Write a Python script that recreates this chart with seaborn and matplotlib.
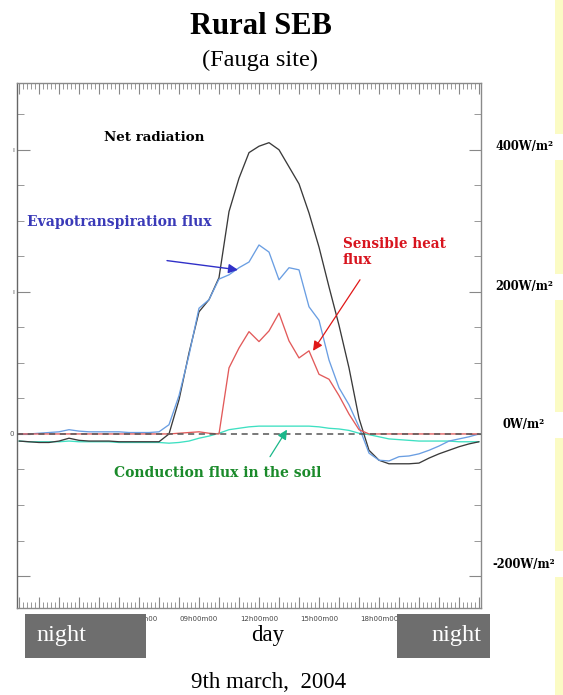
# Rural surface energy balance (Fauga site, 9 March 2004) - redrawn with seaborn
import numpy as np
import pandas as pd
import matplotlib
matplotlib.use("Agg")
import matplotlib.pyplot as plt
import seaborn as sns
from matplotlib.patches import Rectangle
from matplotlib.ticker import MultipleLocator, FixedFormatter

# half-hourly time axis (hours of the day)
hours = np.arange(0, 23.5, 0.5)

# fluxes, W/m2
net_radiation = [-10, -11, -12, -12, -10, -6, -9, -10, -10, -10, -11, -11, -11, -11, -11,
                 0, 48, 114, 172, 189, 220, 313, 360, 396, 405, 410, 400, 376, 352, 311,
                 263, 207, 153, 93, 22, -23, -37, -42, -42, -42, -41, -34, -28, -23, -18,
                 -14, -11]
evapotranspiration = [0, 0, 1, 2, 3, 6, 4, 3, 3, 3, 3, 2, 2, 2, 3,
                      13, 54, 111, 177, 189, 218, 224, 234, 242, 266, 256, 217, 234, 231, 179,
                      160, 104, 65, 41, 10, -27, -37, -38, -32, -31, -28, -23, -17, -10, -7,
                      -4, 0]
sensible_heat = [0, 0, 0, 0, 0, 0, 0, 0, 0, 0, 0, 0, 0, 0, 0,
                 0, 1, 2, 3, 1, 0, 93, 121, 144, 130, 145, 170, 131, 107, 117,
                 84, 77, 54, 28, 6, 0, 0, 0, 0, 0, 0, 0, 0, 0, 0,
                 0, 0]
soil_conduction = [-10, -11, -11, -11, -11, -10, -11, -11, -11, -11, -12, -12, -12, -12, -12,
                   -13, -12, -10, -6, -3, 1, 6, 8, 10, 11, 11, 11, 11, 11, 11,
                   10, 8, 7, 5, 1, -1, -4, -7, -8, -9, -10, -10, -10, -10, -11,
                   -11, -11]

xtick_hours = [6, 9, 12, 15, 18]
xtick_labels = ["06h00m00", "09h00m00", "12h00m00", "15h00m00", "18h00m00"]
right_values = [400, 200, 0, -200]
right_labels = ["400W/m²", "200W/m²", "0W/m²", "-200W/m²"]
left_labels = ["ı", "ı", "0", ""]

df = pd.DataFrame({
    "hour": hours,
    "net": net_radiation,
    "evap": evapotranspiration,
    "sens": sensible_heat,
    "soil": soil_conduction,
})

sns.set_style("white")
plt.rcParams["font.family"] = ["DejaVu Sans"]
plt.rcParams["text.color"] = "black"

W, H = 563, 695
fig = plt.figure(figsize=(W / 100, H / 100), dpi=100)
ax = fig.add_axes([17 / W, 1 - 608 / H, 464 / W, 525 / H])


def fx(px):
    return px / W


def fy(py):
    return 1 - py / H


lw = 0.95
sns.lineplot(data=df, x="hour", y="soil", ax=ax, color="#3ee0c2", lw=lw, zorder=3)
sns.lineplot(data=df, x="hour", y="net", ax=ax, color="#3a3a3a", lw=lw, zorder=4)
sns.lineplot(data=df, x="hour", y="evap", ax=ax, color="#6a9ee2", lw=lw, zorder=5)
sns.lineplot(data=df, x="hour", y="sens", ax=ax, color="#e25a5a", lw=lw, zorder=6)
ax.axhline(0, color="#555555", lw=1.1, ls=(0, (4, 3)), zorder=7)

ax.set_xlim(-0.1, 23.1)
ax.set_ylim(-245, 494)
ax.set_xlabel("")
ax.set_ylabel("")

# axis ruler look: hourly major ticks, labels every 3 h, dense minor ticks
ax.set_xticks(list(range(0, 24)))
ax.xaxis.set_major_formatter(
    FixedFormatter([xtick_labels[xtick_hours.index(h)] if h in xtick_hours else ""
                    for h in range(0, 24)]))
ax.xaxis.set_minor_locator(MultipleLocator(0.2))
ax.set_yticks(right_values, left_labels)
ax.yaxis.set_minor_locator(MultipleLocator(50))
ax.tick_params(axis="x", which="both", direction="in", top=True, bottom=True,
               color="#888888", labelsize=5, labelcolor="#444444", pad=6)
ax.tick_params(axis="x", which="major", length=8, width=0.8)
ax.tick_params(axis="x", which="minor", length=4, width=0.6)
ax.tick_params(axis="y", which="both", direction="in", left=True, right=True,
               color="#888888", labelsize=5, labelcolor="#555555", pad=2)
ax.tick_params(axis="y", which="major", length=9, width=0.8)
ax.tick_params(axis="y", which="minor", length=5, width=0.6)
for s in ax.spines.values():
    s.set_color("#8a8a8a")
    s.set_linewidth(1.0)
ax.spines["left"].set_color("#666666")

# annotations
serif_b = dict(family="DejaVu Serif", weight="bold")
fs = 10
ax.text(6.75, 417, "Net radiation", ha="center", va="center", fontsize=9.6,
        color="black", **serif_b)
ax.text(0.4, 298, "Evapotranspiration flux", ha="left", va="center", fontsize=fs,
        color="#3a3ab8", **serif_b)
ax.text(16.2, 256, "Sensible heat\nflux", ha="left", va="center", fontsize=9.8,
        color="#d8141e", linespacing=1.25, **serif_b)
ax.text(9.95, -55, "Conduction flux in the soil", ha="center", va="center",
        fontsize=fs, color="#1a8a2a", **serif_b)

ax.annotate("", xy=(10.95, 231), xytext=(7.4, 244),
            arrowprops=dict(arrowstyle="-|>", color="#3030c8", lw=1.0,
                            mutation_scale=14, shrinkA=0, shrinkB=0), zorder=9)
ax.annotate("", xy=(14.7, 117), xytext=(17.05, 217),
            arrowprops=dict(arrowstyle="-|>", color="#e01818", lw=0.9,
                            mutation_scale=14, shrinkA=0, shrinkB=0), zorder=9)
ax.annotate("", xy=(13.4, 6), xytext=(12.55, -32),
            arrowprops=dict(arrowstyle="-|>", color="#1ab88a", lw=0.9,
                            mutation_scale=14, shrinkA=0, shrinkB=0), zorder=9)

# pale yellow strip at the right edge
fig.patches.append(Rectangle((fx(555), 0), fx(8), 1, transform=fig.transFigure,
                             facecolor="#fbfbc4", edgecolor="none", zorder=1))

# right-hand value labels (white boxes break the yellow strip)
for v, lab in zip(right_values, right_labels):
    ypx = ax.transData.transform((0, v))[1]
    yfig = ypx / H + {400: 0.004, 200: 0.007, 0: 0.013, -200: 0.017}[v]
    fig.patches.append(Rectangle((fx(490), yfig - 13 / H), fx(73), 26 / H,
                                 transform=fig.transFigure, facecolor="white",
                                 edgecolor="none", zorder=1.5))
    fig.text(fx(524), yfig, lab, ha="center", va="center", fontsize=8.3, **serif_b)

# night / day boxes
for x0, x1 in [(25, 146), (397, 490)]:
    fig.patches.append(Rectangle((fx(x0), fy(658)), fx(x1 - x0), (658 - 614) / H,
                                 transform=fig.transFigure, facecolor="#6e6e6e",
                                 edgecolor="none", zorder=2))
fig.text(fx(61), fy(636), "night", ha="center", va="center", fontsize=17.5,
         color="white", family="Liberation Serif")
fig.text(fx(456), fy(636), "night", ha="center", va="center", fontsize=17.5,
         color="white", family="Liberation Serif")
fig.text(fx(268), fy(636), "day", ha="center", va="center", fontsize=16.5,
         color="black", family="Liberation Serif")

# titles
fig.text(fx(261), fy(26), "Rural SEB", ha="center", va="center", fontsize=22,
         weight="bold", family="Liberation Serif")
fig.text(fx(260), fy(60), "(Fauga site)", ha="center", va="center", fontsize=17.5,
         family="Liberation Serif")
fig.text(fx(269), fy(682), "9th march,  2004", ha="center", va="center",
         fontsize=16.5, family="Liberation Serif")

fig.savefig("out.png", dpi=100, facecolor="white")
